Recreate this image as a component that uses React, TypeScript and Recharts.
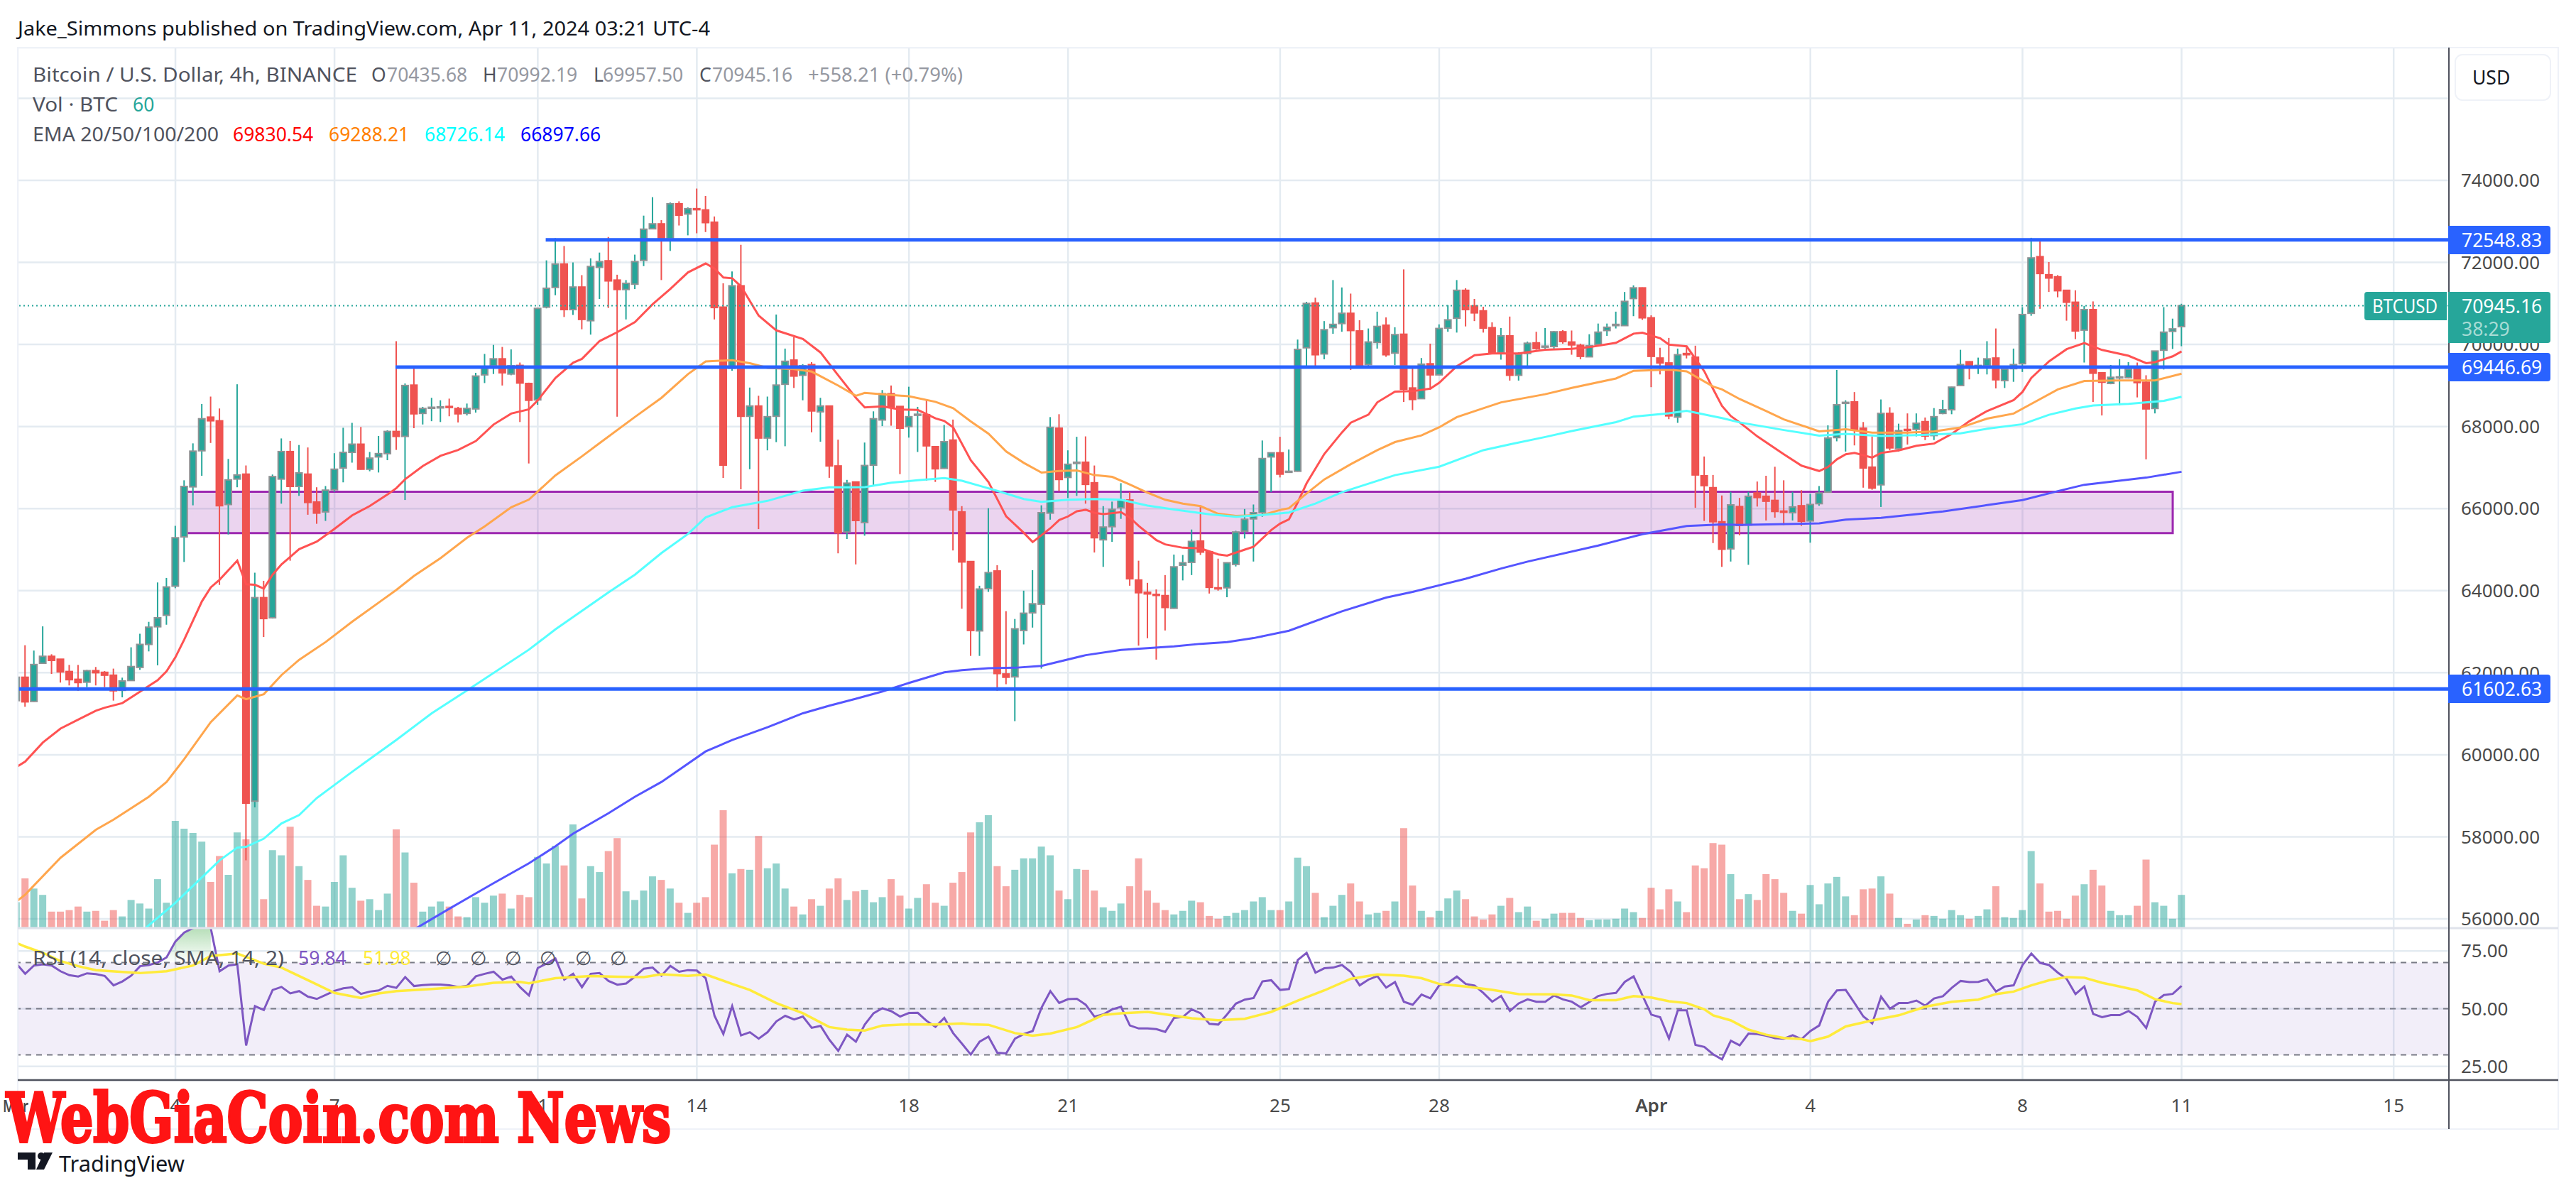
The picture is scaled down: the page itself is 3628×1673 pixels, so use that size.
import React from 'react';
import {
  Area,
  Bar,
  CartesianGrid,
  Cell,
  ComposedChart,
  Line,
  ReferenceArea,
  ReferenceLine,
  XAxis,
  YAxis,
} from 'recharts';

// bar index 0 is Mar 4 00:00, one bar = 4h. first candle is index -18, cut by the left edge
const FIRST_BAR = -18;

const dayTicks = [0, 18, 41, 59, 83, 101, 125, 143, 167, 185, 209, 227, 251];
const dayLabels = ['4', '7', '11', '14', '18', '21', '25', '28', 'Apr', '4', '8', '11', '15'];
const priceTicks = [56000, 58000, 60000, 62000, 64000, 66000, 68000, 70000, 72000, 74000];
const rsiTicks = [25, 50, 75];

// open, high, low, close
const ohlc = [
  [61320, 62300, 61300, 61890],
  [61890, 62670, 61170, 61290], [61300, 62540, 61290, 62200], [62230, 63130, 62230, 62400], [62400, 62450, 61970, 62300],
  [62330, 62330, 61760, 62020], [62030, 62190, 61690, 61830], [61840, 62190, 61560, 61760], [61770, 62070, 61650, 62050],
  [62050, 62140, 61690, 62000], [62010, 62040, 61650, 61940], [61940, 62100, 61320, 61560], [61570, 61880, 61400, 61800],
  [61810, 62620, 61810, 62150], [62130, 62950, 62070, 62690], [62690, 63240, 62520, 63110], [63120, 64200, 62180, 63340],
  [63400, 64310, 63170, 64090],
  // Mar 4
  [64110, 65580, 64060, 65290], [65310, 66690, 64700, 66540], [66530, 67590, 66080, 67400], [67410, 68550, 66800, 68190],
  [68230, 68730, 67600, 68140], [68140, 68440, 64140, 66070], [66100, 67210, 65370, 66700], [66720, 69030, 66520, 66820],
  [66840, 67050, 57430, 58820], [58870, 64440, 58720, 63830], [63830, 64240, 62870, 63320], [63340, 66830, 63320, 66780],
  [66720, 67710, 66120, 67390], [67390, 67650, 64730, 66540], [66540, 67550, 66310, 66870], [66840, 67490, 65850, 66150],
  [66160, 66520, 65630, 65890], [65920, 66550, 65700, 66450],
  // Mar 7
  [66460, 67350, 66410, 66960], [66990, 67970, 66640, 67370], [67370, 68090, 67120, 67570], [67570, 67990, 66950, 66960],
  [66960, 67380, 66910, 67230], [67260, 67770, 66880, 67340], [67340, 67910, 67180, 67880], [67880, 70080, 67430, 67760],
  [67760, 69050, 66210, 69000], [69010, 69480, 67960, 68310], [68320, 68480, 68050, 68440], [68450, 68700, 68130, 68470],
  [68470, 68640, 68110, 68480], [68490, 68680, 68250, 68470], [68440, 68480, 68100, 68310], [68320, 68560, 68270, 68440],
  [68430, 69310, 68340, 69230], [69260, 69770, 69060, 69440], [69480, 69990, 69280, 69650], [69650, 69940, 69000, 69310],
  [69280, 69880, 69250, 69480], [69490, 69560, 68110, 69060], [69050, 69070, 67100, 68640],
  // Mar 11
  [68650, 70890, 68530, 70880], [70910, 72050, 70880, 71370], [71390, 72590, 71200, 71960], [71960, 72400, 70670, 70850],
  [70850, 72000, 70720, 71400], [71400, 71690, 70370, 70610], [70580, 72100, 70240, 71900], [71880, 72240, 71110, 72020],
  [72040, 72620, 70890, 71550], [71570, 71700, 68240, 71340], [71340, 71570, 70610, 71490], [71470, 72190, 71350, 72020],
  [72050, 73140, 71910, 72810], [72820, 73590, 72810, 72940], [72940, 73030, 71570, 72580], [72580, 73460, 72280, 73430],
  [73430, 73490, 72900, 73150], [73180, 73340, 72660, 73310],
  // Mar 14
  [73310, 73800, 72710, 73295], [73280, 73620, 72740, 72970], [72980, 73120, 70610, 70900], [70910, 71490, 66750, 67060],
  [69420, 71780, 69360, 71430], [71430, 72430, 66470, 68250], [68250, 68950, 66960, 68500], [68500, 68750, 65500, 67720],
  [67720, 68730, 67420, 68240], [68250, 70730, 67620, 69010], [69030, 69900, 67520, 69590], [69620, 70180, 68940, 69230],
  [69250, 69520, 68640, 69480], [69510, 69570, 67860, 68380], [68360, 68700, 67630, 68500], [68500, 68510, 66750, 67040],
  [67040, 67680, 64910, 65410], [65430, 66700, 65260, 66620], [66650, 66660, 64640, 65710], [65660, 67610, 65340, 67050],
  [67060, 68370, 66570, 68190], [68160, 68890, 68010, 68800], [68800, 69000, 68020, 68470], [68490, 68490, 66840, 67960],
  // Mar 18
  [68000, 68970, 67730, 68240], [68280, 68480, 67380, 68300], [68290, 68660, 66680, 67530], [67510, 67520, 66650, 66970],
  [66980, 68040, 66970, 67630], [67670, 68170, 64980, 65970], [65920, 66060, 63560, 64700], [64710, 64720, 62410, 63030],
  [63020, 64120, 62410, 64040], [64050, 66010, 63970, 64440], [64480, 64620, 61560, 61980], [61970, 63500, 61720, 61890],
  [61900, 63310, 60820, 63070], [63030, 64000, 62690, 63450], [63460, 64500, 63100, 63680], [63670, 66080, 62100, 65900],
  [65890, 68230, 65730, 67980], [67960, 68300, 66430, 66710],
  // Mar 21
  [66760, 67420, 66260, 67080], [67100, 67750, 66310, 67130], [67130, 67760, 66120, 66590], [66630, 67050, 64930, 65290],
  [65240, 66060, 64580, 65550], [65560, 66170, 65190, 65980], [66020, 66620, 65750, 66210], [66210, 66400, 64120, 64290],
  [64260, 64730, 62660, 63950], [63960, 64190, 62840, 63920], [63910, 64030, 62320, 63890], [63880, 64380, 63030, 63590],
  [63570, 64880, 63560, 64580], [64620, 64870, 64250, 64680], [64690, 65490, 64380, 65200], [65210, 66080, 64870, 64940],
  [64950, 64960, 63930, 64080], [64070, 64780, 64000, 64050], [64070, 64690, 63840, 64680], [64640, 65460, 64590, 65430],
  [65450, 65990, 65270, 65740], [65750, 66100, 64710, 65900], [65900, 67660, 65800, 67220], [67260, 67370, 66400, 67360],
  // Mar 25
  [67360, 67750, 66760, 66840], [66890, 67440, 66880, 66910], [66910, 70120, 66900, 69880], [69920, 71040, 69480, 71000],
  [71010, 71140, 69480, 69750], [69770, 70570, 69640, 70360], [70410, 71570, 70260, 70490], [70510, 71390, 70310, 70760],
  [70760, 71240, 69380, 70340], [70330, 70590, 69460, 69470], [69510, 70390, 69450, 70060], [70050, 70800, 69900, 70440],
  [70470, 70660, 69700, 69750], [69790, 70420, 69500, 70240], [70250, 71830, 68600, 68910], [68940, 69470, 68400, 68660],
  [68680, 69670, 68670, 69520], [69530, 70020, 68900, 69260],
  // Mar 28
  [69260, 70490, 69250, 70390], [70400, 70960, 70310, 70600], [70640, 71570, 70290, 71320], [71320, 71370, 70440, 70850],
  [70940, 71110, 70570, 70770], [70820, 70920, 70290, 70400], [70410, 70540, 69780, 69790], [69800, 70400, 69630, 70210],
  [70210, 70680, 69120, 69250], [69250, 69810, 69120, 69760], [69780, 70070, 69410, 70030], [70040, 70310, 69870, 69900],
  [69940, 70400, 69900, 69960], [69950, 70330, 69900, 70310], [70310, 70350, 70020, 70070], [70060, 70340, 69750, 69990],
  [69980, 70020, 69640, 69710], [69700, 70250, 69690, 69970], [70000, 70510, 69950, 70300], [70340, 70510, 70210, 70420],
  [70460, 70800, 70390, 70490], [70460, 71280, 70460, 71050], [71120, 71440, 70690, 71380], [71380, 71390, 70600, 70650],
  // Apr 1
  [70650, 70710, 68960, 69710], [69670, 69920, 69270, 69550], [69550, 70160, 68180, 68260], [68230, 69900, 68090, 69750],
  [69780, 69970, 69660, 69750], [69690, 69970, 66020, 66820], [66800, 67270, 65700, 66560], [66510, 66820, 65160, 65680],
  [65680, 66320, 64580, 65010], [65020, 66410, 64710, 66090], [66050, 66260, 65350, 65590], [65600, 66410, 64630, 66300],
  [66380, 66660, 66050, 66270], [66300, 66800, 65710, 66180], [66200, 67020, 65780, 65930], [65940, 66690, 65600, 65910],
  [65900, 66410, 65710, 66040], [66070, 66450, 65580, 65690],
  // Apr 4
  [65700, 66360, 65170, 66100], [66120, 66550, 66070, 66380], [66400, 68030, 66390, 67720], [67730, 69380, 67640, 68530],
  [68570, 68640, 67390, 68590], [68600, 68840, 67540, 67930], [67960, 68110, 66510, 66990], [67010, 67760, 66460, 66500],
  [66580, 68660, 66040, 68320], [68320, 68470, 67420, 67480], [67460, 68070, 67390, 67900], [67930, 68320, 67560, 67910],
  [67930, 68320, 67760, 68080], [68120, 68220, 67670, 67770], [67780, 68450, 67670, 68240], [68320, 68650, 68300, 68410],
  [68410, 68970, 68300, 68960], [69000, 69870, 68990, 69510], [69580, 69590, 69150, 69450], [69480, 69680, 69280, 69490],
  [69480, 70080, 69270, 69650], [69670, 70390, 68930, 69140], [69120, 69450, 68940, 69400], [69410, 69900, 69090, 69510],
  // Apr 8
  [69530, 70910, 69330, 70730], [70760, 72600, 70700, 72110], [72140, 72510, 70870, 71730], [71700, 72010, 71280, 71620],
  [71650, 71690, 71150, 71310], [71320, 71320, 70580, 71030], [71030, 71320, 70130, 70330], [70350, 70940, 69560, 70850],
  [70850, 71050, 68600, 69300], [69310, 69310, 68270, 69080], [69050, 69500, 69030, 69200], [69190, 69640, 68520, 69210],
  [69190, 69570, 69170, 69400], [69410, 69560, 68710, 69070], [69080, 69250, 67200, 68430], [68440, 69840, 68320, 69840],
  [69860, 70910, 69390, 70300], [70320, 70630, 69890, 70380],
  // Apr 11
  [70435.68, 70992.19, 69957.5, 70945.16],
];

// relative volume, same bars as ohlc
const volumes = [
  102,
  196, 156, 131, 65, 65, 71, 85, 65, 68, 29,
  71, 46, 111, 97, 77, 193, 100, 423, 392, 375,
  341, 182, 284, 210, 377, 350, 515, 114, 307, 287,
  400, 244, 190, 88, 85, 182, 287, 159, 108, 114,
  71, 136, 389, 298, 179, 65, 85, 105, 85, 46,
  43, 122, 100, 128, 136, 77, 131, 122, 281, 255,
  324, 247, 409, 117, 244, 221, 304, 355, 145, 111,
  148, 204, 190, 156, 100, 60, 100, 122, 329, 465,
  216, 233, 230, 363, 236, 255, 156, 85, 54, 114,
  88, 156, 196, 111, 145, 151, 102, 122, 193, 128,
  77, 119, 173, 100, 88, 179, 221, 377, 417, 445,
  244, 165, 230, 275, 275, 321, 287, 148, 114, 233,
  230, 148, 82, 68, 97, 165, 275, 148, 100, 71,
  54, 68, 108, 102, 48, 37, 48, 60, 71, 105,
  122, 71, 71, 105, 278, 244, 139, 43, 88, 131,
  176, 105, 54, 60, 68, 105, 394, 168, 68, 43,
  68, 117, 148, 114, 46, 34, 54, 88, 119, 63,
  85, 29, 37, 57, 60, 60, 40, 31, 34, 34,
  37, 77, 63, 40, 159, 74, 153, 105, 63, 247,
  236, 335, 329, 213, 114, 134, 111, 213, 193, 139,
  68, 57, 170, 94, 176, 202, 125, 51, 153, 156,
  204, 136, 40, 17, 34, 51, 48, 37, 71, 51,
  37, 48, 74, 165, 43, 40, 71, 304, 176, 65,
  68, 37, 128, 173, 230, 168, 68, 51, 51, 88,
  270, 102, 88, 37, 131,
];

const rsiValues = [
  69.5,
  65.1, 68.7, 69.2, 68.7, 66.2, 64.5, 63.9, 65.3, 65.0, 64.2,
  60.1, 61.8, 64.3, 68.4, 68.9, 70.0, 72.2, 79.1, 83.0, 84.9,
  86.6, 84.9, 66.2, 68.7, 69.2, 34.0, 51.1, 49.4, 58.1, 59.4,
  56.6, 57.6, 55.2, 54.2, 55.9, 57.7, 58.8, 59.3, 56.4, 57.4,
  57.9, 59.9, 59.0, 63.7, 59.8, 60.2, 60.4, 60.4, 60.1, 59.4,
  59.9, 64.0, 65.1, 66.0, 62.6, 63.9, 59.3, 55.7, 67.6, 69.5,
  71.7, 62.6, 65.1, 59.3, 65.1, 65.4, 62.0, 60.4, 60.9, 63.9,
  67.3, 67.8, 64.3, 68.5, 66.0, 66.7, 66.5, 63.2, 46.9, 39.0,
  51.1, 38.4, 39.8, 37.0, 39.8, 44.5, 46.9, 45.3, 46.6, 41.7,
  42.5, 36.5, 31.7, 38.7, 35.7, 43.1, 48.0, 50.2, 48.9, 46.6,
  48.1, 48.2, 44.7, 42.1, 46.0, 39.4, 34.8, 30.1, 35.7, 37.9,
  30.9, 30.6, 37.0, 39.0, 40.3, 50.4, 57.6, 52.5, 54.1, 54.3,
  51.7, 46.5, 47.5, 49.7, 50.8, 42.7, 41.4, 41.4, 41.1, 39.9,
  46.0, 46.4, 49.7, 48.0, 43.4, 43.1, 47.5, 52.2, 53.9, 54.6,
  61.8, 62.3, 58.1, 58.5, 71.1, 74.2, 65.6, 67.5, 67.8, 68.9,
  65.9, 60.1, 62.6, 64.1, 59.1, 61.5, 53.0, 51.7, 56.1, 54.5,
  60.1, 61.2, 63.9, 60.7, 60.0, 56.8, 53.0, 55.5, 49.0, 52.3,
  54.0, 53.0, 53.0, 55.7, 54.0, 53.0, 50.6, 52.9, 55.5, 56.4,
  56.8, 61.6, 64.0, 55.7, 47.4, 46.3, 37.0, 49.3, 49.3, 34.3,
  33.4, 30.2, 28.0, 36.1, 34.1, 39.2, 39.0, 38.3, 37.2, 37.0,
  38.5, 36.8, 40.3, 42.7, 53.0, 57.9, 58.1, 52.4, 46.6, 43.6,
  55.2, 50.0, 52.4, 52.4, 53.5, 51.3, 54.4, 55.4, 59.0, 62.0,
  61.5, 61.6, 62.7, 57.4, 59.6, 60.1, 68.9, 73.9, 69.8, 68.9,
  65.6, 62.9, 56.3, 59.6, 47.7, 46.3, 47.2, 47.2, 49.0, 46.4,
  41.6, 53.0, 55.9, 56.4, 59.84,
];

// [bar index, value]
const rsiMa = [
  [-18, 78.5], [-17, 76.9], [-15, 74.2], [-13, 70.6], [-11, 68.4], [-9, 66.7], [-6, 65.9], [-4, 65.4], [-1, 66.2], [2, 68.7], [4, 72.8],
  [7, 73.9], [10, 69.5], [12, 67.8], [15, 62.3], [18, 56.8], [21, 54.6], [23, 56.6], [25, 57.6], [29, 58.5], [33, 59.6],
  [36, 61.2], [39, 61.6], [40, 61.0], [43, 63.2], [47, 64.1], [50, 63.8], [53, 63.7], [55, 64.9], [58, 64.2], [60, 64.8],
  [63, 60.7], [65, 58.1], [68, 52.4], [71, 48.0], [74, 42.0], [76, 40.9], [78, 40.5], [80, 42.7], [83, 43.2], [86, 43.1],
  [89, 43.6], [90, 43.2], [92, 43.0], [95, 39.4], [97, 38.3], [99, 39.2], [102, 42.0], [105, 47.3], [107, 48.0], [110, 48.6],
  [112, 47.5], [115, 45.8], [118, 45.0], [121, 45.6], [124, 48.6], [127, 53.5], [130, 57.9], [133, 62.9], [136, 64.8], [139, 64.3],
  [141, 63.2], [143, 60.7], [146, 59.6], [149, 58.1], [152, 56.3], [156, 56.2], [158, 55.7], [160, 53.7], [163, 53.7], [165, 55.4],
  [167, 54.8], [169, 53.2], [171, 52.4], [173, 49.7], [174, 47.1], [176, 44.9], [178, 40.9], [180, 38.7], [182, 37.3], [184, 36.8],
  [185, 35.9], [187, 37.9], [189, 42.3], [192, 44.9], [195, 47.1], [198, 50.8], [201, 53.0], [204, 53.9], [206, 56.3], [208, 57.4],
  [210, 60.1], [212, 62.3], [214, 63.7], [216, 63.4], [218, 61.2], [220, 59.6], [222, 57.9], [224, 54.1], [226, 52.4], [227, 51.98],
];

const ema20 = [
  [-18, 59700], [-17, 59834], [-15, 60299], [-13, 60640], [-11, 60857], [-9, 61074], [-8, 61148], [-6, 61260], [-4, 61539], [-2, 61818], [-1, 62035],
  [0, 62376], [1, 62810], [3, 63740], [4, 64080], [5, 64267], [7, 64732], [8, 64155], [9, 64143], [10, 64050], [11, 64391],
  [12, 64639], [13, 64825], [14, 65011], [16, 65197], [18, 65507], [20, 65836], [22, 66065], [24, 66344], [25, 66499], [26, 66716],
  [28, 67038], [30, 67286], [32, 67429], [34, 67646], [36, 68049], [38, 68316], [40, 68421], [41, 68638], [43, 69184], [45, 69556],
  [46, 69649], [48, 70083], [50, 70300], [52, 70548], [54, 70982], [56, 71354], [58, 71757], [60, 71974], [61, 71850], [62, 71633],
  [63, 71614], [64, 71416], [66, 70703], [68, 70343], [71, 70133], [73, 69804], [75, 69246], [77, 68700], [78, 68466], [80, 68490],
  [82, 68416], [84, 68404], [86, 68199], [87, 68137], [88, 67982], [90, 67176], [92, 66649], [94, 65812], [96, 65409], [97, 65185],
  [99, 65520], [100, 65722], [101, 65809], [102, 65936], [103, 65971], [104, 65896], [105, 65867], [107, 65913], [108, 65780], [109, 65578],
  [111, 65231], [112, 65127], [114, 65046], [116, 65029], [118, 64884], [119, 64855], [121, 65000], [122, 65069], [124, 65479], [125, 65635],
  [126, 65739], [127, 66156], [128, 66618], [130, 67331], [132, 67858], [133, 68094], [135, 68292], [136, 68590], [138, 68850], [140, 68862],
  [142, 68924], [143, 69067], [145, 69470], [147, 69737], [149, 69780], [152, 69780], [155, 69873], [158, 69892], [160, 69935], [163, 70040],
  [165, 70264], [166, 70288], [168, 70152], [169, 69997], [171, 69954], [173, 69346], [174, 68912], [175, 68503], [176, 68255], [177, 68100],
  [179, 67759], [182, 67325], [184, 67046], [186, 66916], [187, 67015], [188, 67201], [189, 67325], [190, 67356], [192, 67244], [193, 67356],
  [195, 67418], [197, 67530], [199, 67585], [201, 67821], [203, 68131], [205, 68379], [208, 68646], [209, 68844], [210, 69185], [212, 69588],
  [214, 69886], [216, 70035], [218, 69867], [221, 69724], [223, 69545], [224, 69570], [226, 69712], [227, 69830.54],
];

const ema50 = [
  [-18, 56420], [-17, 56591], [-13, 57490], [-9, 58172], [-7, 58420], [-3, 58978], [-1, 59338], [1, 59896], [4, 60795], [7, 61446], [8, 61353],
  [10, 61477], [12, 61942], [14, 62314], [17, 62748], [20, 63244], [23, 63709], [25, 64019], [27, 64360], [30, 64794], [33, 65290],
  [35, 65569], [38, 66034], [40, 66220], [43, 66809], [46, 67274], [48, 67596], [52, 68235], [55, 68700], [58, 69277], [60, 69587],
  [63, 69618], [65, 69544], [67, 69432], [70, 69401], [72, 69339], [75, 68998], [77, 68750], [78, 68819], [80, 68788], [83, 68738],
  [86, 68602], [88, 68447], [90, 68125], [92, 67827], [94, 67393], [96, 67114], [98, 66878], [100, 66916], [102, 66928], [104, 66816],
  [106, 66773], [108, 66587], [110, 66389], [112, 66215], [114, 66122], [116, 66060], [118, 65874], [120, 65824], [123, 65843], [125, 65967],
  [126, 66010], [128, 66370], [130, 66711], [133, 67083], [136, 67424], [138, 67622], [141, 67784], [143, 67982], [145, 68230], [148, 68447],
  [150, 68590], [155, 68788], [158, 68943], [163, 69172], [165, 69358], [169, 69389], [171, 69346], [174, 68974], [175, 68906], [177, 68670],
  [180, 68379], [182, 68175], [186, 67883], [189, 67933], [192, 67852], [196, 67852], [199, 67883], [202, 67976], [205, 68193], [208, 68317],
  [210, 68553], [213, 68906], [216, 69111], [220, 69123], [224, 69123], [227, 69288.21],
];

const ema100 = [
  [-4, 55661], [-3, 55847], [0, 56393], [2, 56808], [5, 57428], [7, 57738], [8, 57757], [10, 57955], [12, 58327], [14, 58532],
  [16, 58947], [20, 59586], [25, 60361], [29, 61012], [33, 61570], [40, 62562], [43, 63058], [49, 63957], [52, 64391], [55, 64918],
  [58, 65383], [60, 65786], [63, 66034], [67, 66189], [71, 66437], [74, 66518], [76, 66518], [78, 66525], [81, 66630], [84, 66692],
  [87, 66742], [89, 66680], [91, 66556], [93, 66432], [96, 66234], [98, 66165], [101, 66215], [104, 66234], [107, 66215], [110, 66072],
  [113, 65979], [117, 65862], [120, 65800], [123, 65843], [126, 65905], [129, 66122], [132, 66401], [138, 66816], [143, 67021], [148, 67424],
  [151, 67566], [155, 67746], [158, 67889], [163, 68106], [165, 68242], [169, 68323], [171, 68385], [174, 68249], [175, 68205], [177, 68100],
  [182, 67914], [186, 67777], [189, 67821], [193, 67771], [197, 67790], [202, 67833], [205, 67945], [209, 68057], [212, 68286], [215, 68441],
  [217, 68515], [221, 68553], [225, 68627], [227, 68726.14],
];

const ema200 = [
  [27, 55742], [31, 56250], [36, 56870], [40, 57354], [43, 57769], [45, 58079], [49, 58575], [52, 58978], [55, 59338], [60, 60082],
  [63, 60361], [67, 60671], [71, 61012], [74, 61198], [77, 61365], [80, 61543], [83, 61751], [87, 62011], [89, 62063], [92, 62110],
  [95, 62121], [98, 62167], [103, 62428], [107, 62555], [113, 62641], [116, 62705], [119, 62745], [122, 62844], [126, 63023], [132, 63497],
  [137, 63832], [140, 63971], [146, 64290], [150, 64540], [153, 64708], [161, 65099], [166, 65378], [171, 65576], [175, 65614], [177, 65602],
  [186, 65639], [189, 65732], [193, 65775], [200, 65930], [205, 66085], [209, 66209], [213, 66426], [216, 66581], [223, 66755], [227, 66897.66],
];

const resistance = [72548.83, 69446.69, 61602.63];
const lineStarts = [41.9, 24.9, -17.7];
const zoneBars = [1.2, 226];
const zonePrices = [65402, 66412];
const lastPrice = 70945.16;

const legendEma = ['69830.54', '69288.21', '68726.14', '66897.66'];
const ohlcLegend = ['70435.68', '70992.19', '69957.50', '70945.16'];

const X_DOMAIN: [number, number] = [-17.84, 257.25];
const FONT = '"Noto Sans", sans-serif';
const UP = '#26a69a';
const DOWN = '#ef5350';
const GRID = '#e4ebf1';

const lookup = (pairs: number[][]) => new Map(pairs.map(([k, v]) => [k, v]));
const ema20Map = lookup(ema20);
const ema50Map = lookup(ema50);
const ema100Map = lookup(ema100);
const ema200Map = lookup(ema200);
const rsiMaMap = lookup(rsiMa);

const rows = ohlc.map(([o, h, l, c], k) => {
  const i = FIRST_BAR + k;
  const rsi = rsiValues[k];
  return {
    i,
    o,
    h,
    l,
    c,
    range: [l, h],
    vol: volumes[k],
    rsi,
    hot: rsi >= 70 && i < 10 ? [70, rsi] : null,
    rsiMa: rsiMaMap.get(i) ?? null,
    ema20: ema20Map.get(i) ?? null,
    ema50: ema50Map.get(i) ?? null,
    ema100: ema100Map.get(i) ?? null,
    ema200: ema200Map.get(i) ?? null,
  };
});

function Candle(props: any) {
  const { x, y, width, height, payload } = props;
  const { o, h, l, c } = payload;
  const up = c >= o;
  const unit = Math.abs(height) / (h - l || 1);
  const top = Math.min(y, y + height);
  const cx = x + width / 2;
  const bodyTop = top + (h - Math.max(o, c)) * unit;
  const bodyH = Math.max(Math.abs(o - c) * unit, 1.5);
  return (
    <g>
      <line x1={cx} x2={cx} y1={top} y2={top + Math.abs(height)} stroke={up ? UP : DOWN} strokeWidth={2} />
      <rect
        x={cx - 4.5}
        y={bodyTop}
        width={9}
        height={bodyH}
        fill={up ? UP : DOWN}
        stroke={up ? '#8f9294' : DOWN}
        strokeWidth={2}
      />
    </g>
  );
}

function DayTick({ x, y, payload }: any) {
  const label = dayLabels[dayTicks.indexOf(payload.value)];
  return (
    <text
      x={x}
      y={y}
      textAnchor="middle"
      dominantBaseline="central"
      fontFamily={FONT}
      fontSize={26}
      fontWeight={label === 'Apr' ? 600 : 400}
      fill="#4a4a4a"
    >
      {label}
    </text>
  );
}

function T({ x, y, fill = '#50535e', size = 26.5, anchor = 'start', weight = 400, length, children }: any) {
  return (
    <text
      x={x}
      y={y}
      fill={fill}
      fontSize={size}
      fontFamily={FONT}
      fontWeight={weight}
      textAnchor={anchor}
      dominantBaseline="central"
      textLength={length}
      lengthAdjust={length ? 'spacingAndGlyphs' : undefined}
    >
      {children}
    </text>
  );
}

function PriceTag({ top, height = 40, color, value }: any) {
  return (
    <g>
      <path
        d={`M3448 ${top}h140a4 4 0 0 1 4 4v${height - 8}a4 4 0 0 1 -4 4h-140z`}
        fill={color}
      />
      <T x={3467} y={top + 20} fill="#fff">
        {value}
      </T>
    </g>
  );
}

function Overlay() {
  return (
    <svg
      width={3628}
      height={1673}
      style={{ position: 'absolute', left: 0, top: 0, pointerEvents: 'none' }}
    >
      <rect x={25} y={67} width={3578} height={1523} fill="none" stroke="#eff2f8" strokeWidth={2} />
      <line x1={25} x2={3603} y1={1307} y2={1307} stroke="#e0e3eb" strokeWidth={3} />
      <line x1={25} x2={3603} y1={1521} y2={1521} stroke="#50535e" strokeWidth={2.5} />
      <line x1={3449} x2={3449} y1={67} y2={1590} stroke="#50535e" strokeWidth={2} />

      <T x={25} y={39} fill="#131722" size={27} length={975}>
        Jake_Simmons published on TradingView.com, Apr 11, 2024 03:21 UTC-4
      </T>

      <T x={46} y={105} length={457}>Bitcoin / U.S. Dollar, 4h, BINANCE</T>
      <T x={523} y={105}>O</T>
      <T x={545} y={105} fill="#9598a1">{ohlcLegend[0]}</T>
      <T x={680} y={105}>H</T>
      <T x={700} y={105} fill="#9598a1">{ohlcLegend[1]}</T>
      <T x={836} y={105}>L</T>
      <T x={849} y={105} fill="#9598a1">{ohlcLegend[2]}</T>
      <T x={985} y={105}>C</T>
      <T x={1003} y={105} fill="#9598a1">{ohlcLegend[3]}</T>
      <T x={1138} y={105} fill="#9598a1" length={218}>+558.21 (+0.79%)</T>

      <T x={46} y={147} length={120}>Vol · BTC</T>
      <T x={187} y={147} fill={UP}>60</T>

      <T x={46} y={189} length={262}>EMA 20/50/100/200</T>
      <T x={328} y={189} fill="#ff0000">{legendEma[0]}</T>
      <T x={463} y={189} fill="#ff8000">{legendEma[1]}</T>
      <T x={598} y={189} fill="#00ffff">{legendEma[2]}</T>
      <T x={733} y={189} fill="#0000ff">{legendEma[3]}</T>

      <T x={46} y={1349} length={354}>RSI (14, close, SMA, 14, 2)</T>
      <T x={420} y={1349} fill="#7e57c2">59.84</T>
      <T x={511} y={1349} fill="#ffeb3b">51.98</T>
      {[613, 662, 711, 760, 810, 859].map((x) => (
        <T key={x} x={x} y={1349}>∅</T>
      ))}

      <rect x={3458} y={77} width={134} height={64} rx={10} fill="#fff" stroke="#eff2f8" strokeWidth={2} />
      <T x={3482} y={109} fill="#131722">USD</T>

      <PriceTag top={318} color="#2962ff" value="72548.83" />
      <PriceTag top={497} color="#2962ff" value="69446.69" />
      <PriceTag top={950} color="#2962ff" value="61602.63" />
      <PriceTag top={411} height={72} color={UP} value="70945.16" />
      <T x={3467} y={463} fill="#a8dcd5">38:29</T>
      <path d="M3446 411h-112a4 4 0 0 0 -4 4v32a4 4 0 0 0 4 4h112z" fill={UP} />
      <T x={3341} y={431} fill="#fff" length={92}>BTCUSD</T>

      <T x={40} y={1556} fill="#4a4a4a" size={24} anchor="end" weight={600} length={36}>Mar</T>

      <text
        x={9}
        y={1608}
        fontFamily='"DejaVu Serif", serif'
        fontWeight={700}
        fontSize={96}
        fill="#ff1414"
        stroke="#ff1414"
        strokeWidth={4}
        textLength={936}
        lengthAdjust="spacingAndGlyphs"
      >
        WebGiaCoin.com News
      </text>

      <path d="M25 1623h25v24h-11v-14h-14z" fill="#131722" />
      <circle cx={58} cy={1628} r={5} fill="#131722" />
      <path d="M62 1623h12l-12 24h-11z" fill="#131722" />
      <T x={83} y={1638} fill="#131722" size={30} length={177}>TradingView</T>
    </svg>
  );
}

export default function App() {
  return (
    <div style={{ position: 'absolute', left: 0, top: 0, width: 3628, height: 1673, background: '#fff', overflow: 'hidden' }}>
      <div style={{ position: 'absolute', left: 25, top: 67 }}>
        <ComposedChart
          width={3578}
          height={1240}
          data={rows}
          margin={{ top: 0, right: 0, bottom: 0, left: 0 }}
          style={{ overflow: 'visible' }}
        >
          <CartesianGrid stroke={GRID} strokeWidth={2.5} />
          <XAxis dataKey="i" type="number" domain={X_DOMAIN} ticks={dayTicks} allowDataOverflow hide />
          <XAxis xAxisId="volX" dataKey="i" type="number" domain={X_DOMAIN} ticks={dayTicks} allowDataOverflow hide />
          <YAxis
            orientation="right"
            width={154}
            domain={[55776, 77236]}
            ticks={priceTicks}
            interval={0}
            allowDataOverflow
            axisLine={false}
            tickLine={false}
            tickSize={0}
            tickMargin={17}
            tick={{ fontSize: 26, fill: '#4a4a4a', fontFamily: FONT }}
            tickFormatter={(v) => v.toFixed(2)}
          />
          <YAxis yAxisId="vol" hide domain={[0, 3472]} />
          <ReferenceLine y={76000} stroke={GRID} strokeWidth={2.5} />
          <Bar xAxisId="volX" yAxisId="vol" dataKey="vol" barSize={10} isAnimationActive={false}>
            {rows.map((r) => (
              <Cell key={r.i} fill={r.c >= r.o ? UP : DOWN} fillOpacity={0.5} />
            ))}
          </Bar>
          <Line dataKey="ema20" stroke="#ff5252" strokeWidth={3} dot={false} connectNulls isAnimationActive={false} />
          <Line dataKey="ema50" stroke="#ffa64d" strokeWidth={3} dot={false} connectNulls isAnimationActive={false} />
          <Line dataKey="ema100" stroke="#55ffff" strokeWidth={3} dot={false} connectNulls isAnimationActive={false} />
          <Line dataKey="ema200" stroke="#5555ff" strokeWidth={3} dot={false} connectNulls isAnimationActive={false} />
          <ReferenceArea
            x1={zoneBars[0]}
            x2={zoneBars[1]}
            y1={zonePrices[0]}
            y2={zonePrices[1]}
            fill="#9c27b0"
            fillOpacity={0.2}
            stroke="#9c27b0"
            strokeWidth={3}
            strokeOpacity={1}
          />
          <ReferenceLine y={lastPrice} stroke={UP} strokeWidth={2} strokeDasharray="2 4" />
          {resistance.map((p, n) => (
            <ReferenceLine
              key={p}
              segment={[
                { x: lineStarts[n], y: p },
                { x: X_DOMAIN[1], y: p },
              ]}
              stroke="#2962ff"
              strokeWidth={5}
            />
          ))}
          <Bar dataKey="range" barSize={10} shape={<Candle />} isAnimationActive={false} />
        </ComposedChart>
      </div>

      <div style={{ position: 'absolute', left: 25, top: 1307 }}>
        <ComposedChart width={3578} height={284} data={rows} margin={{ top: 0, right: 0, bottom: 0, left: 0 }}>
          <defs>
            <linearGradient id="hotGrad" x1="0" y1="0" x2="0" y2="1">
              <stop offset="0%" stopColor="#4caf50" stopOpacity={0.45} />
              <stop offset="100%" stopColor="#4caf50" stopOpacity={0} />
            </linearGradient>
          </defs>
          <CartesianGrid stroke={GRID} strokeWidth={2.5} />
          <XAxis
            dataKey="i"
            type="number"
            domain={X_DOMAIN}
            ticks={dayTicks}
            interval={0}
            allowDataOverflow
            height={70}
            axisLine={false}
            tickLine={false}
            tickSize={0}
            tickMargin={35}
            tick={<DayTick />}
          />
          <YAxis
            orientation="right"
            width={154}
            domain={[19.05, 84.9]}
            ticks={rsiTicks}
            interval={0}
            allowDataOverflow
            axisLine={false}
            tickLine={false}
            tickSize={0}
            tickMargin={17}
            tick={{ fontSize: 26, fill: '#4a4a4a', fontFamily: FONT }}
            tickFormatter={(v) => v.toFixed(2)}
          />
          <ReferenceArea y1={30} y2={70} fill="#7e57c2" fillOpacity={0.1} stroke="none" />
          {[70, 50, 30].map((v) => (
            <ReferenceLine key={v} y={v} stroke="#787b86" strokeWidth={2} strokeDasharray="8 7" />
          ))}
          <Area dataKey="hot" stroke="none" fill="url(#hotGrad)" fillOpacity={1} isAnimationActive={false} />
          <Line dataKey="rsi" stroke="#7e57c2" strokeWidth={3} dot={false} isAnimationActive={false} />
          <Line dataKey="rsiMa" stroke="#ffeb3b" strokeWidth={3.5} dot={false} connectNulls isAnimationActive={false} />
        </ComposedChart>
      </div>

      <Overlay />
    </div>
  );
}
